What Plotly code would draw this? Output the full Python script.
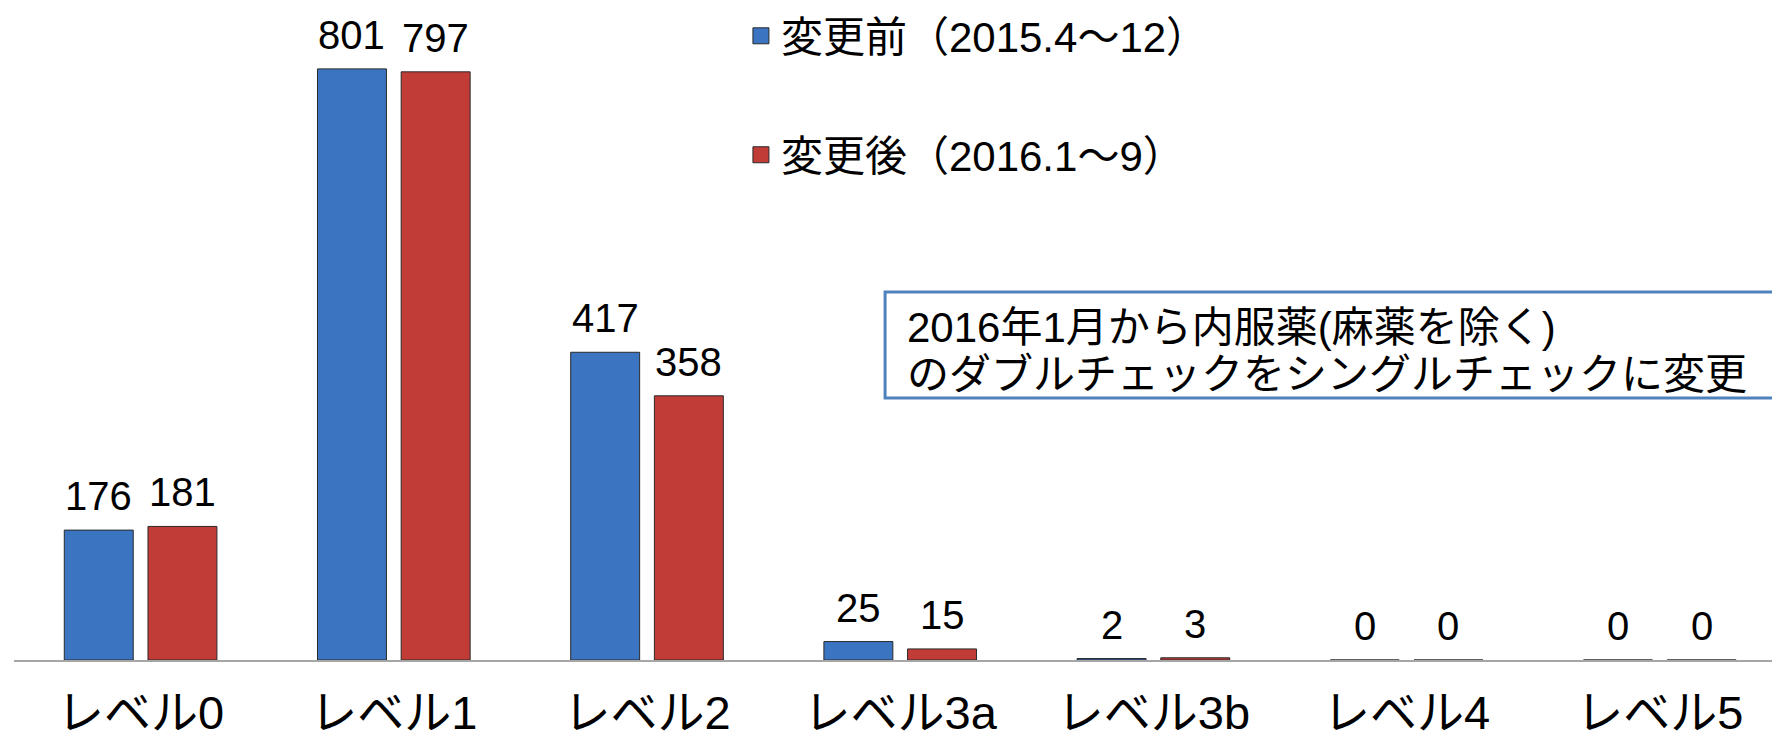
import plotly.graph_objects as go

categories = ["レベル0", "レベル1", "レベル2", "レベル3a", "レベル3b", "レベル4", "レベル5"]
before_vals = [176, 801, 417, 25, 2, 0, 0]
after_vals = [181, 797, 358, 15, 3, 0, 0]
before_name = "変更前（2015.4〜12）"
after_name = "変更後（2016.1〜9）"
note_lines = ["2016年1月から内服薬(麻薬を除く)", "のダブルチェックをシングルチェックに変更"]

FONT = "Liberation Sans, Arial, Noto Sans CJK JP, sans-serif"
BLUE = "#3B74C1"
RED = "#C13B37"
EDGE = "#2a2a2a"

W, H = 1772, 739
ML, MR, MT, MB = 14, 0, 10, 79
XMAX = 6.443
BARGAP = 0.339
BARGROUPGAP = 0.176
cat_px = (W - ML - MR) / (XMAX + 0.5)
half_slot_px = (1 - BARGAP) / 4 * cat_px

fig = go.Figure()
for vals, name, color, leg in [(before_vals, before_name, BLUE, "legend"),
                               (after_vals, after_name, RED, "legend2")]:
    fig.add_trace(go.Bar(
        x=categories, y=vals, name=name, showlegend=False,
        marker=dict(color=color, line=dict(color=EDGE, width=1)),
        cliponaxis=False,
    ))
    # legend proxy (square swatch)
    fig.add_trace(go.Scatter(
        x=[None], y=[None], mode="markers", name=name, legend=leg,
        marker=dict(symbol="square", size=16, color=color, line=dict(color=EDGE, width=1)),
    ))

# value labels above each bar
for vals, sign in [(before_vals, -1), (after_vals, 1)]:
    for c, v in zip(categories, vals):
        fig.add_annotation(x=c, y=v, xref="x", yref="y", text=str(v), showarrow=False,
                           xanchor="center", yanchor="bottom", xshift=sign * half_slot_px,
                           yshift=10, font=dict(size=40, family=FONT, color="black"))

fig.update_layout(
    width=W, height=H,
    margin=dict(l=ML, r=MR, t=MT, b=MB, autoexpand=False),
    plot_bgcolor="white", paper_bgcolor="white",
    barmode="group", bargap=BARGAP, bargroupgap=BARGROUPGAP,
    font=dict(family=FONT, color="black"),
    showlegend=True,
    legend=dict(x=0.4135, y=0.96, xanchor="left", yanchor="middle", itemsizing="trace",
                font=dict(size=42, family=FONT), bgcolor="rgba(0,0,0,0)"),
    legend2=dict(x=0.4135, y=0.777, xanchor="left", yanchor="middle", itemsizing="trace",
                 font=dict(size=42, family=FONT), bgcolor="rgba(0,0,0,0)"),
    xaxis=dict(range=[-0.5, XMAX], showline=True, linecolor="#A6A6A6", linewidth=2,
               ticks="", showgrid=False, zeroline=False, automargin=False,
               tickfont=dict(size=47, family=FONT), ticklabelstandoff=11),
    yaxis=dict(range=[0, 880.8], visible=False, showgrid=False, zeroline=False,
               automargin=False),
)

fig.add_shape(type="rect", xref="paper", yref="paper",
              x0=0.4955, x1=1.02, y0=0.403, y1=0.566,
              line=dict(color="#4F81BD", width=3), fillcolor="white", layer="below")

for txt, yy in zip(note_lines, [0.5108, 0.440]):
    fig.add_annotation(xref="paper", yref="paper", x=0.507, y=yy,
                       xanchor="left", yanchor="middle", text=txt, showarrow=False,
                       font=dict(size=42, family=FONT, color="black"))

fig.write_html("out.html")
